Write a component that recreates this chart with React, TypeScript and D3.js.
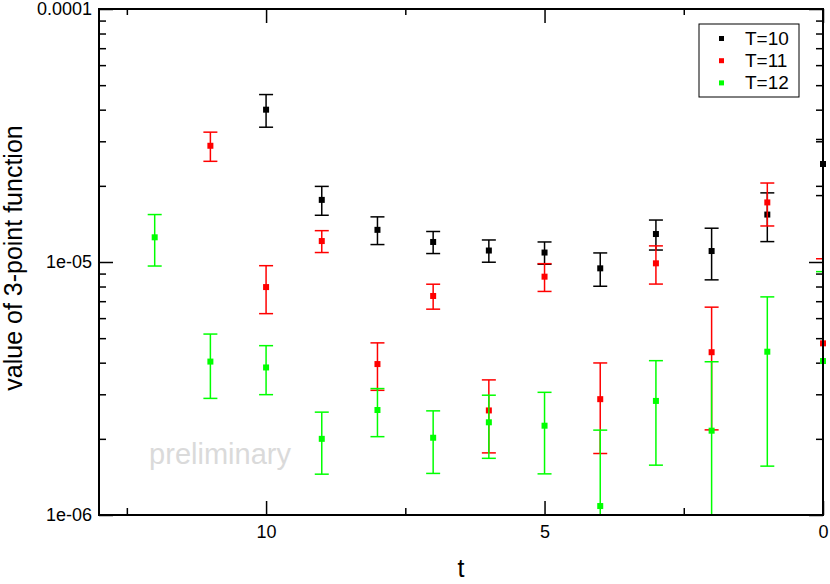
import * as d3 from "d3";
import { useEffect, useRef } from "react";

// t values per series (x axis runs from 13 down to 0)
const tT10 = [10, 9, 8, 7, 6, 5, 4, 3, 2, 1, 0];
const tT11 = [11, 10, 9, 8, 7, 6, 5, 4, 3, 2, 1, 0];
const tT12 = [12, 11, 10, 9, 8, 7, 6, 5, 4, 3, 2, 1, 0];

const valT10 = [4.0e-5, 1.76e-5, 1.34e-5, 1.2e-5, 1.11e-5, 1.09e-5, 0.944e-5, 1.29e-5, 1.105e-5, 1.54e-5, 2.44e-5];
const errT10 = [0.59e-5, 0.23e-5, 0.168e-5, 0.12e-5, 0.112e-5, 0.11e-5, 0.142e-5, 0.175e-5, 0.255e-5, 0.336e-5, 0.61e-5];

const valT11 = [2.88e-5, 0.796e-5, 1.21e-5, 0.395e-5, 0.734e-5, 0.259e-5, 0.875e-5, 0.287e-5, 0.988e-5, 0.44e-5, 1.72e-5, 0.477e-5];
const errT11 = [0.38e-5, 0.171e-5, 0.12e-5, 0.084e-5, 0.083e-5, 0.083e-5, 0.11e-5, 0.112e-5, 0.17e-5, 0.223e-5, 0.332e-5, 0.553e-5];

const valT12 = [1.252e-5, 0.404e-5, 0.383e-5, 0.2e-5, 0.26e-5, 0.202e-5, 0.2325e-5, 0.2254e-5, 0.1085e-5, 0.2824e-5, 0.2154e-5, 0.442e-5, 0.406e-5];
const errT12 = [0.288e-5, 0.115e-5, 0.084e-5, 0.055e-5, 0.056e-5, 0.056e-5, 0.065e-5, 0.08e-5, 0.108e-5, 0.125e-5, 0.188e-5, 0.286e-5, 0.51e-5];

const seriesNames = ["T=10", "T=11", "T=12"];
const seriesColors = ["#000000", "#ff0000", "#00ff00"];

const xMajorTicks = [10, 5, 0];
const xMinorTicks = [12.5, 7.5, 2.5];
const yMajorTicks = [1e-6, 1e-5, 1e-4];
const yTickLabels = ["1e-06", "1e-05", "0.0001"];

const FONT = "'Liberation Sans', Arial, Helvetica, sans-serif";

export default function App() {
  const ref = useRef<SVGSVGElement>(null);

  useEffect(() => {
    const W = 830;
    const H = 584;
    const margin = { top: 9, right: 7, bottom: 69, left: 99 };
    const width = W - margin.left - margin.right;
    const height = H - margin.top - margin.bottom;

    const root = d3.select(ref.current);
    root.selectAll("*").remove();

    const svg = root
      .append("g")
      .attr("transform", `translate(${margin.left},${margin.top})`);

    const x = d3.scaleLinear().domain([13, 0]).range([0, width]);
    const y = d3.scaleLog().domain([1e-6, 1e-4]).range([height, 0]);

    const yMinorTicks: number[] = [];
    [1e-6, 1e-5].forEach((d) => {
      for (let k = 2; k <= 9; k++) yMinorTicks.push(d * k);
    });

    svg
      .append("defs")
      .append("clipPath")
      .attr("id", "plot-clip")
      .append("rect")
      .attr("width", width)
      .attr("height", height);

    // watermark
    svg
      .append("text")
      .attr("x", x(12.1))
      .attr("y", 455)
      .attr("font-family", FONT)
      .attr("font-size", 29)
      .attr("fill", "#dadada")
      .text("preliminary");

    const tickStyle = (g) =>
      g.call((g) => g.select(".domain").remove())
        .call((g) => g.selectAll("line").attr("stroke", "#000").attr("stroke-width", 1.5));

    // bottom axis (ticks inward)
    svg
      .append("g")
      .attr("transform", `translate(0,${height})`)
      .call(
        d3.axisBottom(x).tickValues(xMajorTicks).tickSize(-14).tickPadding(10)
          .tickFormat(d3.format("d"))
      )
      .call(tickStyle)
      .call((g) =>
        g.selectAll("text").attr("font-family", FONT).attr("font-size", 18).attr("fill", "#000")
      );
    svg
      .append("g")
      .attr("transform", `translate(0,${height})`)
      .call(d3.axisBottom(x).tickValues(xMinorTicks).tickSize(-7).tickFormat(() => ""))
      .call(tickStyle);

    // top axis
    svg
      .append("g")
      .call(d3.axisTop(x).tickValues(xMajorTicks).tickSize(-14).tickFormat(() => ""))
      .call(tickStyle);
    svg
      .append("g")
      .call(d3.axisTop(x).tickValues(xMinorTicks).tickSize(-6).tickFormat(() => ""))
      .call(tickStyle);

    // left axis
    svg
      .append("g")
      .call(
        d3.axisLeft(y).tickValues(yMajorTicks).tickSize(-14).tickPadding(7)
          .tickFormat((d, i) => yTickLabels[i])
      )
      .call(tickStyle)
      .call((g) =>
        g.selectAll("text").attr("font-family", FONT).attr("font-size", 18).attr("fill", "#000")
      );
    svg
      .append("g")
      .call(d3.axisLeft(y).tickValues(yMinorTicks).tickSize(-7).tickFormat(() => ""))
      .call(tickStyle);

    // right axis
    svg
      .append("g")
      .attr("transform", `translate(${width},0)`)
      .call(d3.axisRight(y).tickValues(yMajorTicks).tickSize(-14).tickFormat(() => ""))
      .call(tickStyle);
    svg
      .append("g")
      .attr("transform", `translate(${width},0)`)
      .call(d3.axisRight(y).tickValues(yMinorTicks).tickSize(-7).tickFormat(() => ""))
      .call(tickStyle);

    // data sets
    const sets = [
      { t: tT10, v: valT10, e: errT10 },
      { t: tT11, v: valT11, e: errT11 },
      { t: tT12, v: valT12, e: errT12 },
    ];
    const capW = 7;
    const sym = 6;

    sets.forEach((s, si) => {
      const color = seriesColors[si];
      const pts = s.t.map((t, i) => ({ t, v: s.v[i], e: s.e[i] }));
      const yLo = (d) => (d.v - d.e > 0 ? y(d.v - d.e) : height + 50);
      const bars = svg.append("g").attr("clip-path", "url(#plot-clip)");
      const eb = bars.selectAll("g").data(pts).join("g");
      eb.append("line")
        .attr("x1", (d) => x(d.t))
        .attr("x2", (d) => x(d.t))
        .attr("y1", (d) => y(d.v + d.e))
        .attr("y2", yLo)
        .attr("stroke", color)
        .attr("stroke-width", 1.5);
      eb.append("line")
        .attr("x1", (d) => x(d.t) - capW)
        .attr("x2", (d) => x(d.t) + capW)
        .attr("y1", (d) => y(d.v + d.e))
        .attr("y2", (d) => y(d.v + d.e))
        .attr("stroke", color)
        .attr("stroke-width", 1.5);
      eb.append("line")
        .attr("x1", (d) => x(d.t) - capW)
        .attr("x2", (d) => x(d.t) + capW)
        .attr("y1", yLo)
        .attr("y2", yLo)
        .attr("stroke", color)
        .attr("stroke-width", 1.5);
      svg
        .append("g")
        .selectAll("rect")
        .data(pts)
        .join("rect")
        .attr("x", (d) => x(d.t) - sym / 2)
        .attr("y", (d) => y(d.v) - sym / 2)
        .attr("width", sym)
        .attr("height", sym)
        .attr("fill", color);
    });

    // frame
    svg
      .append("rect")
      .attr("width", width)
      .attr("height", height)
      .attr("fill", "none")
      .attr("stroke", "#000")
      .attr("stroke-width", 2);

    // axis titles
    root
      .append("text")
      .attr("x", margin.left + width / 2)
      .attr("y", 577)
      .attr("text-anchor", "middle")
      .attr("font-family", FONT)
      .attr("font-size", 25)
      .text("t");
    root
      .append("text")
      .attr("transform", `translate(22,${margin.top + height / 2 - 4}) rotate(-90)`)
      .attr("text-anchor", "middle")
      .attr("font-family", FONT)
      .attr("font-size", 25)
      .text("value of 3-point function");

    // legend
    const leg = root.append("g").attr("transform", "translate(699,24)");
    leg
      .append("rect")
      .attr("width", 100)
      .attr("height", 73)
      .attr("fill", "#fff")
      .attr("stroke", "#000")
      .attr("stroke-width", 1);
    seriesNames.forEach((name, i) => {
      leg
        .append("rect")
        .attr("x", 20)
        .attr("y", 12 + i * 22.2)
        .attr("width", 5)
        .attr("height", 5)
        .attr("fill", seriesColors[i]);
      leg
        .append("text")
        .attr("x", 46)
        .attr("y", 21 + i * 22.2)
        .attr("font-family", FONT)
        .attr("font-size", 19)
        .text(name);
    });
  }, []);

  return (
    <svg
      ref={ref}
      width={830}
      height={584}
      style={{ position: "absolute", left: 0, top: 0, background: "#fff" }}
    />
  );
}
